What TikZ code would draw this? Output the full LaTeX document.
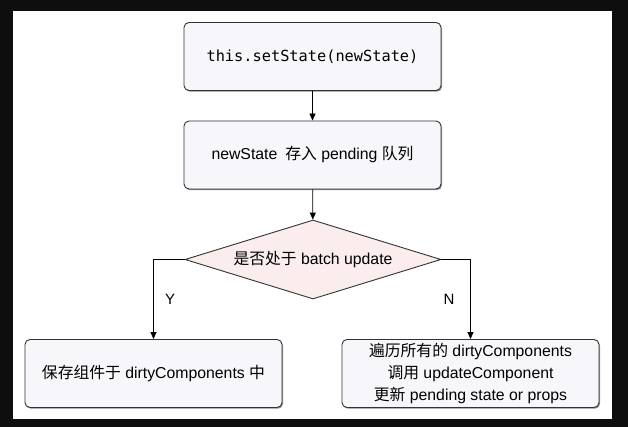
\documentclass[tikz,border=0pt]{standalone}
\usepackage{fontspec}
\setmainfont{Liberation Sans}
\newfontfamily\cjk{Noto Sans CJK SC}
\newfontfamily\monof{DejaVu Sans Mono}
\usetikzlibrary{shapes.geometric,arrows.meta,shadows}
\definecolor{boxfill}{HTML}{F7F7FB}
\definecolor{dfill}{HTML}{FBEDEE}
\definecolor{edge}{HTML}{333333}
\definecolor{frame}{HTML}{0E0E0E}
\begin{document}
\begin{tikzpicture}[x=1pt,y=-1pt,
  box/.style={draw=edge,line width=0.9pt,fill=boxfill,rounded corners=5pt,
    minimum width=257pt,minimum height=68pt,inner sep=0pt,align=center,
    font=\fontsize{15.8}{22}\selectfont,
    drop shadow={shadow xshift=1pt,shadow yshift=-1.2pt,opacity=0.45,fill=black}},
  dec/.style={diamond,draw=edge,line width=0.9pt,fill=dfill,aspect=3.24,
    minimum width=256pt,minimum height=79pt,inner sep=0pt,
    font=\fontsize{15.8}{18}\selectfont},
  lbl/.style={font=\fontsize{15}{18}\selectfont,inner sep=0pt},
  conn/.style={draw=black,line width=0.8pt,-{Triangle[length=7pt,width=6pt]}}]
\fill[frame] (0,0) rectangle (628,427);
\fill[white] (13,11) rectangle (612,419);
\node[box,font=\fontsize{15.3}{18}\selectfont\monof] (a) at (312.5,56.5) {this.setState(newState)};
\node[box] (b) at (312.5,155) {newState\enspace{\cjk 存入} pending {\cjk 队列}};
\node[dec] (d) at (313,259.5) {{\cjk 是否处于} batch update};
\node[box] (c) at (153.5,373.5) {{\cjk 保存组件于} dirtyComponents {\cjk 中}};
\node[box] (e) at (470.5,373.5) {{\cjk 遍历所有的} dirtyComponents\\{\cjk 调用} updateComponent\\{\cjk 更新} pending state or props};
\node[lbl] (y) at (170,299) {Y};
\node[lbl] (n) at (449,299) {N};
\draw[conn] (a) -- (b);
\draw[conn] (b) -- (d);
\draw[conn] (d.west) -| (c.north);
\draw[conn] (d.east) -| (e.north);
\end{tikzpicture}
\end{document}
